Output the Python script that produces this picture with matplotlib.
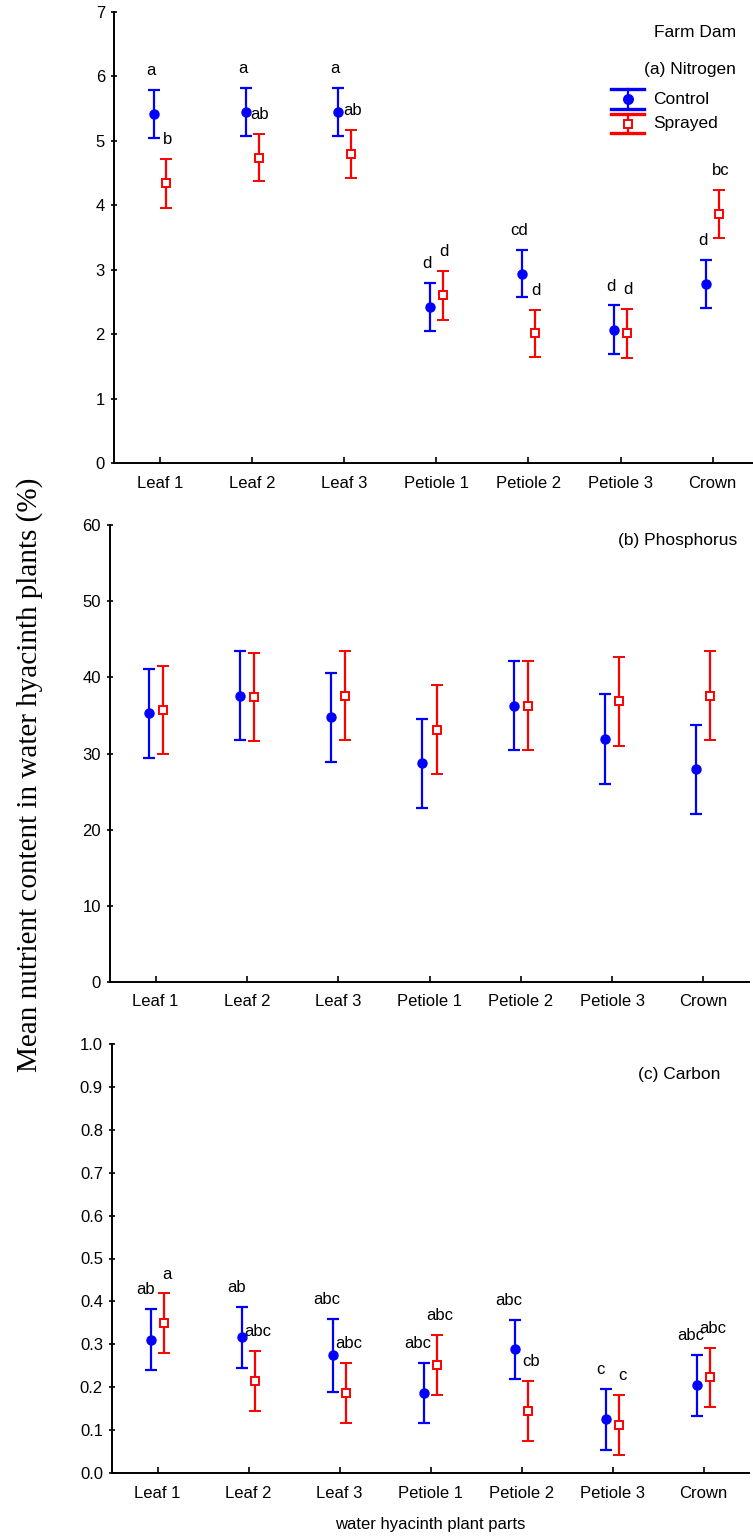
import matplotlib
matplotlib.use("Agg")
import matplotlib.pyplot as plt
from matplotlib.lines import Line2D
import numpy as np

plt.rcParams['font.family'] = ['Liberation Sans', 'DejaVu Sans']

# ---- data ---------------------------------------------------------------
parts = ["Leaf 1", "Leaf 2", "Leaf 3", "Petiole 1", "Petiole 2", "Petiole 3", "Crown"]

# (a) Nitrogen (%)
n_control = [5.42, 5.45, 5.45, 2.42, 2.94, 2.07, 2.78]
n_control_err = [0.37, 0.37, 0.37, 0.375, 0.37, 0.375, 0.375]
n_sprayed = [4.34, 4.74, 4.80, 2.60, 2.01, 2.01, 3.87]
n_sprayed_err = [0.375, 0.37, 0.375, 0.375, 0.37, 0.375, 0.37]
n_control_grp = ["a", "a", "a", "d", "cd", "d", "d"]
n_sprayed_grp = ["b", "ab", "ab", "d", "d", "d", "bc"]

# (b) Phosphorus
p_control = [35.3, 37.6, 34.75, 28.7, 36.3, 31.9, 27.9]
p_control_err = [5.85, 5.85, 5.85, 5.8, 5.8, 5.85, 5.85]
p_sprayed = [35.75, 37.4, 37.6, 33.1, 36.3, 36.85, 37.6]
p_sprayed_err = [5.8, 5.8, 5.85, 5.85, 5.85, 5.85, 5.85]

# (c) Carbon
c_control = [0.311, 0.316, 0.274, 0.186, 0.288, 0.125, 0.204]
c_control_err = [0.0705, 0.0705, 0.0855, 0.0705, 0.0695, 0.0705, 0.0705]
c_sprayed = [0.349, 0.214, 0.186, 0.252, 0.144, 0.112, 0.223]
c_sprayed_err = [0.0695, 0.070, 0.0705, 0.070, 0.0705, 0.070, 0.0695]
c_control_grp = ["ab", "ab", "abc", "abc", "abc", "c", "abc"]
c_sprayed_grp = ["a", "abc", "abc", "abc", "cb", "c", "abc"]

# ---- figure ---------------------------------------------------------------
W, H = 753, 1538
fig = plt.figure(figsize=(W / 100, H / 100), dpi=100)

BLUE = (0, 0, 1)
RED = (1, 0, 0)
FS = 12


def make_axes(left, top, bottom, width):
    return fig.add_axes([left / W, (H - bottom) / H, width / W, (bottom - top) / H])


def style(ax, ymax, yticks, fmt):
    ax.set_xlim(0.5, 7.5)
    ax.set_ylim(0, ymax)
    for s in ("top", "right"):
        ax.spines[s].set_visible(False)
    for s in ("left", "bottom"):
        ax.spines[s].set_linewidth(1.4)
    ax.set_xticks(np.arange(1, 8))
    ax.set_xticklabels(parts, fontsize=FS)
    ax.set_yticks(yticks)
    ax.set_yticklabels([fmt.format(v) for v in yticks], fontsize=FS)
    ax.tick_params(axis="x", direction="in", length=4, width=1.2, pad=9)
    ax.tick_params(axis="y", direction="inout", length=5, width=1.2, pad=4)
    ax.patch.set_alpha(0)


def draw_pairs(ax, ctrl, ctrl_err, spr, spr_err, off=0.07):
    x = np.arange(1, 8)
    ax.errorbar(x - off, ctrl, yerr=ctrl_err, fmt="o", color=BLUE, ms=6.5,
                elinewidth=1.6, capsize=4, capthick=1.6, clip_on=False, zorder=3)
    ax.errorbar(x + off, spr, yerr=spr_err, fmt="s", color=RED, mfc="white",
                mec=RED, mew=1.4, ms=5.5, elinewidth=1.6, capsize=4,
                capthick=1.6, clip_on=False, zorder=3)


def draw_groups(ax, vals, errs, letters, xoff, dx):
    x = np.arange(1, 8)
    for xi, v, e, t in zip(x, vals, errs, letters):
        ax.annotate(t, (xi + xoff, v + e), xytext=(dx, 14),
                    textcoords="offset points", ha="center", va="center",
                    fontsize=FS)


# (a) Nitrogen
axa = make_axes(114, 12, 463, 644.7)
style(axa, 7, np.arange(0, 8), "{:.0f}")
draw_pairs(axa, n_control, n_control_err, n_sprayed, n_sprayed_err)
draw_groups(axa, n_control, n_control_err, n_control_grp, -0.07, -2)
draw_groups(axa, n_sprayed, n_sprayed_err, n_sprayed_grp, 0.07, 1)
axa.text(0.965, 0.955, "Farm Dam", transform=axa.transAxes, ha="right",
         va="center", fontsize=12.5)
axa.text(0.965, 0.873, "(a) Nitrogen", transform=axa.transAxes, ha="right",
         va="center", fontsize=12.5)

# legend built from errorbar-like glyphs
hx, hw = 0.797, 0.0256
for col, ytop, ymid, ybot, mk, mfc, label in (
        (BLUE, 0.829, 0.807, 0.786, "o", BLUE, "Control"),
        (RED, 0.774, 0.752, 0.732, "s", "white", "Sprayed")):
    tr = axa.transAxes
    axa.add_line(Line2D([hx, hx], [ytop, ybot], color=col, lw=1.6, transform=tr))
    axa.add_line(Line2D([hx - hw, hx + hw], [ytop, ytop], color=col, lw=2.4, transform=tr))
    axa.add_line(Line2D([hx - hw, hx + hw], [ybot, ybot], color=col, lw=2.4, transform=tr))
    axa.add_line(Line2D([hx], [ymid], marker=mk, color=col, mfc=mfc, mec=col,
                        mew=1.4, ms=6.5 if mk == "o" else 5.5, transform=tr))
    axa.text(0.836, ymid, label, transform=tr, ha="left", va="center", fontsize=12.5)

# (b) Phosphorus
axb = make_axes(110, 525, 982, 639)
style(axb, 60, np.arange(0, 61, 10), "{:.0f}")
draw_pairs(axb, p_control, p_control_err, p_sprayed, p_sprayed_err, off=0.078)
axb.text(0.982, 0.967, "(b) Phosphorus", transform=axb.transAxes, ha="right",
         va="center", fontsize=12.5)

# (c) Carbon
axc = make_axes(112, 1044, 1473, 637)
style(axc, 1.0, np.round(np.arange(0, 1.01, 0.1), 1), "{:.1f}")
draw_pairs(axc, c_control, c_control_err, c_sprayed, c_sprayed_err, off=0.075)
draw_groups(axc, c_control, c_control_err, c_control_grp, -0.075, -4)
draw_groups(axc, c_sprayed, c_sprayed_err, c_sprayed_grp, 0.075, 2)
axc.text(0.955, 0.93, "(c) Carbon", transform=axc.transAxes, ha="right",
         va="center", fontsize=12.5)
axc.set_xlabel("water hyacinth plant parts", fontsize=12, labelpad=12)

fig.text(30 / W, (H - 775) / H, "Mean nutrient content in water hyacinth plants (%)",
         rotation=90, ha="center", va="center", fontsize=21,
         family=["Liberation Serif", "DejaVu Serif"])

fig.savefig("out.png", dpi=100)
